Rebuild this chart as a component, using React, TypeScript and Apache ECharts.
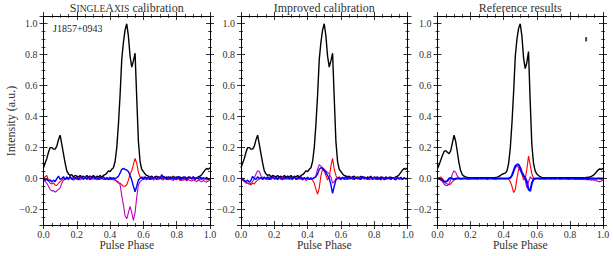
import React, { useEffect, useRef } from 'react';
import * as echarts from 'echarts';

// Pulse phase grid (x), 0.00 .. 1.00 in steps of 0.01
const phase: number[] = Array.from({ length: 101 }, (_, i) => i / 100);

// Total intensity (noisy, panels 1-2)
const blackNoisy = [0.07,0.10,0.13,0.17,0.20,0.20,0.19,0.19,0.21,0.25,
 0.28,0.22,0.16,0.10,0.05,0.03,0.02,0.025,0.01,0.02,
 0.015,0.01,0.02,0.01,0.015,0.005,0.02,0.01,0.015,0.01,
 0.02,0.005,0.015,0.01,0.02,0.01,0.02,0.025,0.035,0.05,
 0.045,0.06,0.07,0.11,0.20,0.35,0.54,0.77,0.88,0.96,
 1.00,0.92,0.79,0.72,0.76,0.81,0.52,0.24,0.11,0.06,
 0.045,0.03,0.02,0.015,0.01,0.015,0.005,0.01,0.015,0.005,
 0.01,0.0,0.015,0.005,0.01,0.0,0.01,0.005,0.015,0.0,
 0.01,0.005,0.01,-0.005,0.01,0.005,0.0,0.01,0.005,0.0,
 0.01,0.0,0.005,0.01,0.015,0.025,0.04,0.055,0.065,0.06,
 0.07];

// Total intensity (reference, panel 3)
const blackRef = [0.065,0.09,0.12,0.15,0.175,0.18,0.17,0.16,0.18,0.23,
 0.28,0.24,0.17,0.10,0.05,0.025,0.015,0.01,0.008,0.006,
 0.005,0.005,0.005,0.005,0.005,0.005,0.005,0.005,0.005,0.005,
 0.005,0.005,0.005,0.005,0.006,0.007,0.009,0.013,0.02,0.028,
 0.032,0.035,0.05,0.10,0.20,0.36,0.56,0.79,0.90,0.97,
 1.00,0.92,0.78,0.71,0.75,0.82,0.50,0.22,0.10,0.05,
 0.03,0.02,0.012,0.008,0.006,0.005,0.005,0.005,0.005,0.005,
 0.005,0.005,0.005,0.005,0.005,0.005,0.005,0.005,0.005,0.005,
 0.005,0.005,0.005,0.005,0.005,0.005,0.005,0.005,0.005,0.006,
 0.007,0.008,0.01,0.014,0.02,0.03,0.042,0.055,0.062,0.06,
 0.065];

// Panel 1: SingleAxis calibration
const red1 = [0.0,0.012,0.02,-0.012,-0.03,-0.035,-0.028,-0.042,-0.045,-0.03,
 -0.02,-0.01,0.004,-0.008,0.008,-0.006,0.012,0.0,-0.01,0.008,
 -0.002,0.01,-0.007,0.006,-0.003,0.011,-0.006,0.007,0.012,-0.005,
 0.008,-0.002,0.01,-0.007,0.006,-0.002,0.009,-0.006,0.005,-0.002,
 -0.008,0.006,-0.004,-0.01,-0.02,-0.03,-0.03,-0.04,-0.05,-0.05,
 -0.04,-0.01,0.03,0.05,0.09,0.13,0.10,0.04,0.01,0.0,
 0.01,-0.006,0.008,-0.002,0.012,-0.007,0.006,0.01,-0.005,0.007,
 -0.002,0.011,-0.006,0.007,-0.002,0.009,-0.008,0.005,0.01,-0.006,
 0.002,0.008,-0.01,-0.012,0.006,-0.008,0.004,-0.006,0.007,-0.004,
 0.006,-0.008,0.005,-0.002,-0.007,0.008,-0.005,0.002,-0.01,-0.006,
 0.0];
const blue1 = [0.0,-0.012,-0.004,-0.016,-0.008,-0.022,-0.01,-0.02,0.0,0.016,
 -0.006,0.002,0.012,-0.006,0.01,-0.002,0.014,-0.006,0.008,-0.002,
 0.012,-0.008,0.007,0.014,-0.005,0.008,-0.002,0.012,-0.007,0.006,
 0.012,-0.002,0.008,-0.006,0.01,0.0,0.012,-0.007,0.006,-0.002,
 0.008,-0.005,0.006,-0.002,0.006,0.015,0.035,0.06,0.065,0.06,
 0.055,0.045,0.02,-0.01,-0.05,-0.085,-0.05,-0.01,0.0,0.01,
 -0.006,0.012,-0.002,0.008,-0.007,0.014,0.0,0.01,-0.006,0.012,
 -0.002,0.026,0.002,0.01,-0.007,0.012,-0.002,0.008,-0.005,0.01,
 -0.002,0.014,-0.006,0.008,-0.002,0.012,-0.007,0.006,0.01,-0.002,
 0.012,-0.006,0.008,-0.002,0.01,-0.005,0.006,-0.002,0.008,-0.006,
 0.0];
const mag1 = [-0.01,-0.02,-0.03,-0.05,-0.07,-0.08,-0.078,-0.088,-0.08,-0.07,
 -0.06,-0.03,-0.01,-0.006,0.002,-0.008,0.006,-0.003,-0.01,0.004,
 -0.006,0.004,-0.008,0.001,-0.005,0.006,-0.007,0.001,-0.009,0.004,
 -0.005,0.001,-0.008,0.005,-0.006,0.001,-0.007,0.004,-0.005,-0.008,
 0.001,-0.006,-0.008,-0.01,-0.015,-0.02,-0.04,-0.11,-0.17,-0.24,
 -0.26,-0.22,-0.18,-0.22,-0.27,-0.22,-0.12,-0.04,-0.02,-0.01,
 -0.006,0.003,-0.008,0.001,-0.006,0.004,-0.009,-0.002,0.001,-0.007,
 0.004,-0.006,-0.01,0.001,-0.005,-0.008,0.003,-0.007,-0.012,-0.003,
 -0.008,0.0,-0.01,-0.004,-0.012,-0.005,-0.014,-0.006,-0.012,-0.016,
 -0.008,-0.014,-0.019,-0.01,-0.016,-0.021,-0.012,-0.019,-0.023,-0.015,
 -0.01];

// Panel 2: Improved calibration
const red2 = [0.006,0.0,-0.01,-0.02,-0.03,-0.035,-0.04,-0.03,-0.035,-0.02,
 -0.01,0.0,0.007,-0.006,0.008,-0.002,-0.007,0.01,-0.005,0.006,
 -0.002,0.009,-0.008,0.005,-0.002,0.012,-0.006,0.007,-0.004,0.008,
 -0.002,-0.007,0.01,0.003,-0.006,0.007,-0.002,-0.008,0.006,-0.012,
 -0.006,0.002,-0.004,-0.01,-0.03,-0.07,-0.10,-0.06,0.02,0.06,
 0.05,0.02,-0.01,0.01,0.08,0.13,0.06,0.02,0.0,0.008,
 -0.006,0.01,-0.002,-0.007,0.008,-0.002,0.011,-0.005,0.006,-0.002,
 0.009,-0.007,0.005,0.01,-0.004,0.007,-0.002,-0.008,0.006,-0.002,
 0.01,-0.006,0.004,0.008,-0.01,0.0,0.006,-0.005,0.008,-0.002,
 -0.007,0.005,-0.002,-0.006,0.008,-0.004,0.002,-0.007,0.005,-0.002,
 0.006];
const mag2 = [0.0,-0.01,-0.02,-0.03,-0.03,-0.035,-0.03,-0.02,0.0,0.03,
 0.05,0.045,0.02,0.005,0.0,-0.005,0.004,-0.001,-0.006,0.005,
 -0.001,-0.004,0.006,0.0,-0.005,0.003,0.007,-0.003,0.0,0.005,
 -0.004,0.0,0.006,-0.005,0.003,0.0,-0.004,0.005,-0.001,-0.003,
 0.004,0.0,-0.005,0.0,0.005,0.02,0.06,0.09,0.08,0.07,
 0.06,0.05,0.04,0.03,0.01,-0.03,-0.02,0.0,0.005,-0.004,
 0.003,0.0,-0.005,0.006,0.0,-0.003,0.005,0.0,-0.006,0.004,
 0.0,0.005,-0.004,0.0,0.006,-0.003,0.0,0.004,-0.005,0.0,
 0.005,-0.003,0.0,0.006,-0.004,0.0,0.003,-0.005,0.0,0.004,
 -0.003,0.0,0.005,-0.004,0.0,0.003,-0.005,0.0,0.004,-0.003,
 0.0];
const blue2 = [0.0,-0.005,-0.015,-0.02,-0.01,-0.025,-0.01,0.014,0.0,-0.006,
 0.012,-0.002,0.008,-0.006,0.01,-0.002,0.012,-0.007,0.006,0.014,
 -0.002,0.008,-0.006,0.012,0.002,-0.007,0.01,-0.002,0.014,-0.005,
 0.007,-0.002,0.011,-0.006,0.008,-0.002,0.012,-0.008,0.006,-0.002,
 0.009,-0.007,0.005,-0.002,0.004,0.01,0.03,0.06,0.07,0.065,
 0.05,0.04,0.02,0.0,-0.04,-0.095,-0.05,-0.01,0.0,0.01,
 -0.006,0.008,-0.002,0.017,-0.005,0.007,-0.002,0.012,-0.007,0.006,
 -0.002,0.01,-0.006,0.014,-0.002,0.008,-0.007,0.006,0.012,-0.005,
 -0.002,0.009,-0.006,0.007,-0.002,0.011,-0.008,0.006,-0.002,0.01,
 -0.005,0.007,-0.002,-0.008,0.006,-0.002,0.009,-0.006,0.005,-0.002,
 0.0];

// Panel 3: Reference results
const red3 = [0.0,0.005,0.01,0.0,-0.02,-0.03,-0.035,-0.04,-0.035,-0.02,
 -0.01,-0.005,0.0,0.002,-0.002,0.0,0.002,0.0,-0.002,0.0,
 0.002,0.0,-0.002,0.001,0.0,0.002,-0.001,0.0,0.002,0.0,
 -0.002,0.0,0.001,0.0,-0.002,0.0,0.002,0.0,-0.002,0.0,
 0.0,-0.002,0.0,-0.005,-0.02,-0.05,-0.09,-0.07,0.0,0.06,
 0.07,0.03,-0.01,0.0,0.06,0.145,0.09,0.03,0.005,0.0,
 0.002,0.0,-0.002,0.0,0.002,0.0,-0.002,0.001,0.0,0.002,
 0.0,-0.002,0.0,0.002,0.0,-0.001,0.0,0.002,0.0,-0.002,
 0.0,0.002,0.0,-0.002,0.0,0.001,0.0,-0.002,0.0,0.002,
 0.0,-0.002,0.0,0.002,0.0,-0.002,0.0,0.001,0.0,-0.002,
 0.0];
const mag3 = [0.0,-0.005,-0.01,-0.02,-0.035,-0.045,-0.045,-0.035,-0.01,0.03,
 0.05,0.04,0.015,0.003,0.0,-0.002,0.0,0.001,-0.001,0.0,
 -0.002,0.0,0.001,0.0,-0.002,0.0,0.001,-0.001,0.0,0.0,
 -0.002,0.0,0.001,0.0,-0.001,0.0,-0.002,0.0,0.001,0.0,
 -0.002,0.0,0.0,0.0,0.002,0.02,0.05,0.07,0.08,0.07,
 0.05,0.03,0.01,-0.01,-0.06,-0.02,0.01,0.0,0.0,-0.002,
 0.0,0.001,-0.002,0.0,0.0,-0.002,0.001,0.0,-0.002,0.0,
 0.0,-0.002,0.001,0.0,-0.002,0.0,-0.003,0.0,-0.002,-0.004,
 -0.002,0.0,-0.003,-0.004,-0.002,-0.005,-0.003,-0.006,-0.004,-0.005,
 -0.007,-0.006,-0.008,-0.01,-0.008,-0.012,-0.015,-0.018,-0.02,-0.015,
 -0.01];
const blue3 = [0.0,0.0,-0.005,-0.01,-0.02,-0.02,-0.015,0.0,0.005,0.0,
 -0.005,0.0,0.001,0.0,-0.001,0.0,0.001,0.0,0.0,-0.001,
 0.0,0.001,0.0,0.0,-0.001,0.0,0.001,0.0,0.0,0.0,
 -0.001,0.0,0.001,0.0,0.0,-0.001,0.0,0.001,0.0,0.0,
 0.0,0.0,0.001,0.002,0.005,0.02,0.05,0.08,0.09,0.09,
 0.07,0.04,0.02,0.005,-0.02,-0.07,-0.08,-0.03,-0.005,0.0,
 0.0,0.001,0.0,0.0,-0.001,0.0,0.001,0.0,0.0,-0.001,
 0.0,0.001,0.0,0.0,-0.001,0.0,0.001,0.0,0.0,0.0,
 -0.001,0.0,0.001,0.0,0.0,-0.001,0.0,0.001,0.0,0.0,
 0.0,-0.001,0.0,0.001,0.0,0.0,-0.001,0.0,0.001,0.0,
 0.0];

// Error bar in panel 3
const errX = [0.898, 0.898];
const errY = [0.886, 0.914];

const titles = ['SingleAxis calibration', 'Improved calibration', 'Reference results'];
const xAxisName = 'Pulse Phase';
const yAxisName = 'Intensity (a.u.)';
const pulsarName = 'J1857+0943';

const FONT = "'Liberation Serif', 'DejaVu Serif', serif";

const panels = [
  { black: blackNoisy, red: red1, mag: mag1, blue: blue1, blueW: 1.4 },
  { black: blackNoisy, red: red2, mag: mag2, blue: blue2, blueW: 1.4 },
  { black: blackRef, red: red3, mag: mag3, blue: blue3, blueW: 2 },
];
const grids = [
  { left: 43.5, top: 16, width: 166.5, height: 209 },
  { left: 241, top: 16, width: 166.5, height: 209 },
  { left: 437.5, top: 16, width: 165.5, height: 209 },
];

const pairs = (ys: number[]) => phase.map((x, i) => [x, ys[i]]);

const yFmt = (v: number) => {
  const r = Math.round(v * 5) / 5;
  if (Math.abs(v - r) > 1e-6) return '';
  const s = Math.abs(r).toFixed(1);
  return r < -1e-9 ? '\u2212' + s : s;
};

export default function App() {
  const ref = useRef<HTMLDivElement>(null);
  useEffect(() => {
    if (!ref.current) return;
    const chart = echarts.init(ref.current, null, { renderer: 'svg' });
    const xAxes: any[] = [];
    const yAxes: any[] = [];
    grids.forEach((_, p) => {
      for (const pos of ['bottom', 'top']) {
        for (const inside of [false, true]) {
          xAxes.push({
            type: 'value', gridIndex: p, position: pos, min: 0, max: 1, interval: 0.2,
            axisLine: { show: !inside, onZero: false, lineStyle: { color: '#000', width: 1 } },
            axisTick: { show: true, inside, length: 4, lineStyle: { color: '#000', width: 0.8 } },
            minorTick: { show: true, splitNumber: 4, length: 2, lineStyle: { color: '#000', width: 0.7 } },
            axisLabel: {
              show: pos === 'bottom' && !inside, margin: 4, fontSize: 10, fontFamily: FONT, color: '#333',
              formatter: (v: number) => v.toFixed(1),
            },
            splitLine: { show: false }, minorSplitLine: { show: false }, z: 10,
          });
        }
      }
      for (const pos of ['left', 'right']) {
        for (const inside of [false, true]) {
          yAxes.push({
            type: 'value', gridIndex: p, position: pos, min: -0.3, max: 1.05, splitNumber: 6,
            axisLine: { show: !inside, onZero: false, lineStyle: { color: '#000', width: 1 } },
            axisTick: { show: true, inside, length: 4, lineStyle: { color: '#000', width: 0.8 } },
            minorTick: { show: true, splitNumber: 4, length: 2, lineStyle: { color: '#000', width: 0.7 } },
            axisLabel: {
              show: pos === 'left' && !inside, margin: 6, fontSize: 10, fontFamily: FONT, color: '#333',
              formatter: yFmt,
            },
            splitLine: { show: false }, minorSplitLine: { show: false }, z: 10,
          });
        }
      }
    });

    const series: any[] = [];
    panels.forEach((pn, p) => {
      const base = { type: 'line', xAxisIndex: 4 * p, yAxisIndex: 4 * p, symbol: 'none', showSymbol: false, clip: true, silent: true };
      series.push({ ...base, data: pairs(pn.black), lineStyle: { color: '#000', width: 1.4 }, z: 2 });
      series.push({ ...base, data: pairs(pn.red), lineStyle: { color: '#ff0000', width: 1.1 }, z: 3 });
      series.push({ ...base, data: pairs(pn.mag), lineStyle: { color: '#bf00bf', width: 1.1 }, z: 4 });
      series.push({ ...base, data: pairs(pn.blue), lineStyle: { color: '#0000ff', width: pn.blueW }, z: 5 });
    });
    series.push({
      type: 'line', xAxisIndex: 8, yAxisIndex: 8, symbol: 'none', silent: true,
      data: errX.map((x, i) => [x, errY[i]]), lineStyle: { color: '#444', width: 2 }, z: 6,
    });

    const graphic: any[] = [];
    grids.forEach((g, p) => {
      const cx = g.left + g.width / 2;
      if (p === 0) {
        graphic.push({
          type: 'text', x: cx, y: 8.3,
          style: {
            text: '{a|S}{b|INGLE}{a|A}{b|XIS}{a| calibration}',
            rich: {
              a: { fontSize: 12, fontFamily: FONT, fill: '#333' },
              b: { fontSize: 9.6, fontFamily: FONT, fill: '#333' },
            },
            fontSize: 12, fontFamily: FONT,
            align: 'center', verticalAlign: 'middle', fill: '#333',
          },
        });
      } else {
        graphic.push({
          type: 'text', x: cx, y: 8.3,
          style: { text: titles[p], fontSize: 12, fontFamily: FONT, fill: '#333', align: 'center', verticalAlign: 'middle' },
        });
      }
      graphic.push({
        type: 'text', x: cx, y: 244.5,
        style: { text: xAxisName, fontSize: 11.5, fontFamily: FONT, fill: '#333', align: 'center', verticalAlign: 'middle' },
      });
    });
    graphic.push({
      type: 'text', x: 11, y: 121, rotation: Math.PI / 2,
      style: { text: yAxisName, fontSize: 12, fontFamily: FONT, fill: '#333', align: 'center', verticalAlign: 'middle' },
    });
    graphic.push({
      type: 'text', x: 53, y: 28.5,
      style: { text: pulsarName, fontSize: 10, fontFamily: FONT, fill: '#222', align: 'left', verticalAlign: 'middle' },
    });

    chart.setOption({
      animation: false,
      backgroundColor: '#fff',
      grid: grids.map((g) => ({ ...g, containLabel: false })),
      xAxis: xAxes,
      yAxis: yAxes,
      series,
      graphic,
    });
    return () => chart.dispose();
  }, []);
  return <div ref={ref} style={{ position: 'fixed', left: 0, top: 0, width: 613, height: 256 }} />;
}
